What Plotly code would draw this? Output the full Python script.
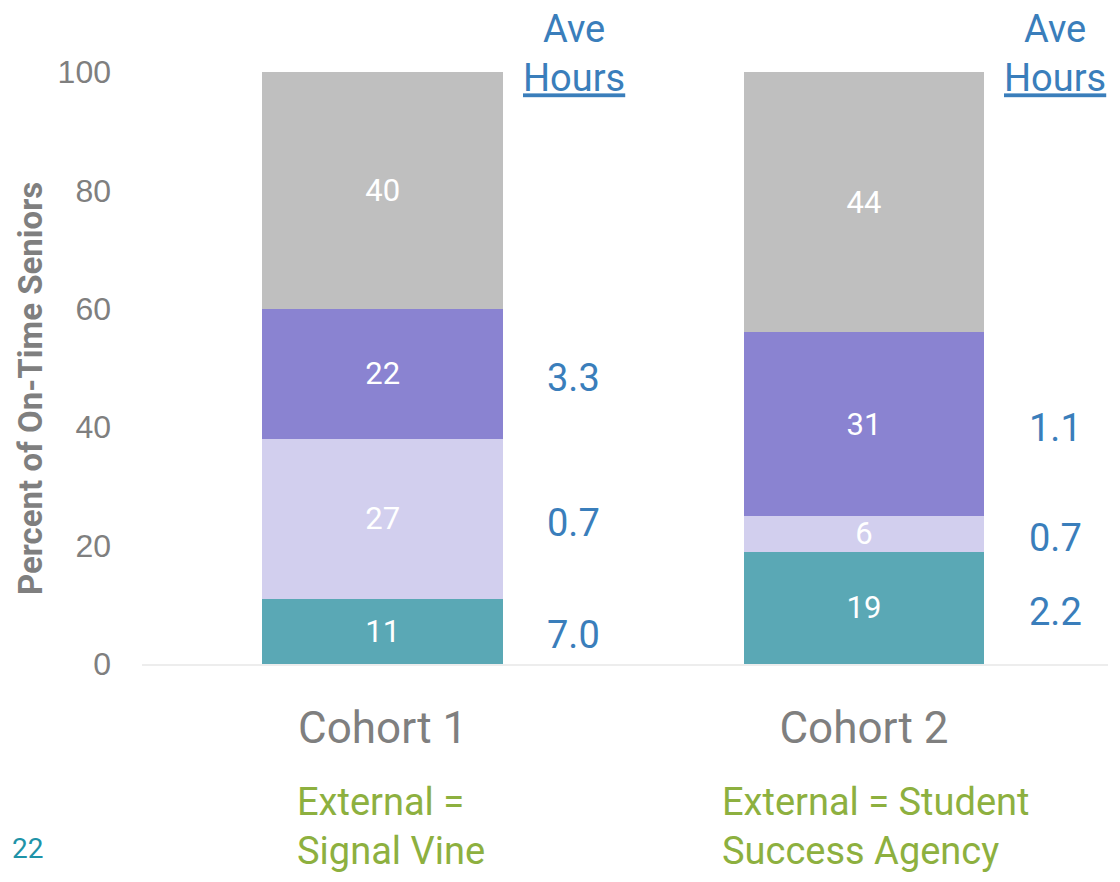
import plotly.graph_objects as go

# Data
cohorts = ["Cohort 1", "Cohort 2"]
seg_names = ["Bottom group", "Second group", "Third group", "Top group"]
seg_values = [
    [11, 19],   # teal
    [27, 6],    # light lavender
    [22, 31],   # purple
    [40, 44],   # gray
]
seg_colors = ["#5AA8B5", "#D2CFEE", "#8A83D1", "#BFBFBF"]
# average hours, per segment (None = not shown)
ave_hours = [
    ["7.0", "2.2"],
    ["0.7", "0.7"],
    ["3.3", "1.1"],
    [None, None],
]
subtitles = ["External =<br>Signal Vine", "External = Student<br>Success Agency"]
y_title = "Percent of On-Time Seniors"
page_number = "22"

GRAY = "#7F7F7F"
BLUE = "#3A7EBB"
GREEN = "#8DB03F"
FONT = "Roboto"

fig = go.Figure()

for name, vals, color in zip(seg_names, seg_values, seg_colors):
    fig.add_trace(
        go.Bar(
            x=cohorts,
            y=vals,
            name=name,
            marker=dict(color=color, line=dict(width=0)),
            text=[str(v) for v in vals],
            textposition="inside",
            insidetextanchor="middle",
            constraintext="none",
            textangle=0,
            textfont=dict(family=FONT, size=31, color="white"),
        )
    )

# Ave hours next to each segment, at the segment midpoint
for ci, cohort in enumerate(cohorts):
    base = 0
    for si in range(len(seg_values)):
        v = seg_values[si][ci]
        label = ave_hours[si][ci]
        if label is not None:
            fig.add_annotation(
                x=cohort, y=base + v / 2, xref="x", yref="y",
                text=label, showarrow=False, xshift=191, yshift=-4,
                font=dict(family=FONT, size=38, color=BLUE),
            )
        base += v
    fig.add_annotation(
        x=cohort, y=1, xref="x", yref="paper",
        text="Ave<br><u>Hours</u>", showarrow=False, xshift=191,
        yanchor="middle", yshift=19,
        font=dict(family=FONT, size=38, color=BLUE),
    )

sub_x = [0.158, 0.598]
for sx, sub in zip(sub_x, subtitles):
    fig.add_annotation(
        x=sx, y=-0.274, xref="paper", yref="paper",
        text=sub, showarrow=False, xanchor="left", yanchor="middle",
        align="left", font=dict(family=FONT, size=38, color=GREEN),
    )

# y axis title, centred a little below the plot middle as in the source
fig.add_annotation(
    x=-0.116, y=0.466, xref="paper", yref="paper",
    text=y_title, showarrow=False, textangle=-90,
    xanchor="center", yanchor="middle",
    font=dict(family=FONT, size=33, color=GRAY, weight="bold"),
)

fig.add_annotation(
    x=-0.137, y=-0.311, xref="paper", yref="paper",
    text=page_number, showarrow=False, xanchor="left", yanchor="middle",
    font=dict(family=FONT, size=28, color="#1F93A8"),
)

fig.update_layout(
    width=1120,
    height=882,
    barmode="stack",
    bargap=0.5,
    showlegend=False,
    plot_bgcolor="white",
    paper_bgcolor="white",
    margin=dict(l=134, r=20, t=64, b=226),
    font=dict(family=FONT, color=GRAY),
)
fig.update_xaxes(
    showgrid=False,
    showline=True,
    linecolor="#EDEDED",
    linewidth=2,
    ticks="",
    tickfont=dict(family=FONT, size=44, color=GRAY),
    ticklabelstandoff=24,
)
fig.update_yaxes(
    range=[0, 100],
    tickvals=[0, 20, 40, 60, 80, 100],
    showgrid=False,
    zeroline=False,
    showline=False,
    ticks="",
    tickfont=dict(family="Liberation Sans", size=32, color=GRAY),
    ticklabelstandoff=30,
)

fig.write_html("out.html")
